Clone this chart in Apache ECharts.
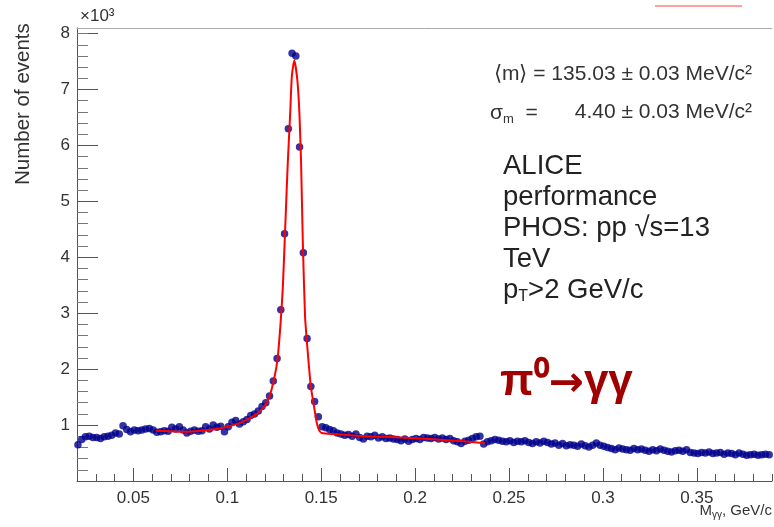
<!DOCTYPE html>
<html><head><meta charset="utf-8">
<script src="https://cdn.jsdelivr.net/npm/echarts@6/dist/echarts.min.js"></script>
<style>html,body{margin:0;padding:0;background:#fff}#c{width:774px;height:527px}</style>
</head><body><div id="c"></div>
<script>
// Histogram: bin centres start at 0.0205 GeV/c, width 0.002; counts in units of 10^3
const binStart = 0.0205;
const binWidth = 0.002;
const counts = [
  0.65,0.74,0.79,0.80,0.78,0.78,0.76,0.79,0.80,0.82,
  0.86,0.84,0.99,0.92,0.88,0.91,0.90,0.91,0.93,0.94,
  0.91,0.87,0.88,0.90,0.89,0.96,0.93,0.97,0.91,0.86,
  0.89,0.91,0.89,0.90,0.97,0.93,1.00,0.96,0.98,0.88,
  0.97,1.05,1.08,1.02,1.06,1.10,1.17,1.20,1.25,1.33,
  1.40,1.52,1.79,2.19,3.06,4.42,6.30,7.65,7.60,5.97,
  4.08,2.55,1.69,1.42,1.15,0.97,0.95,0.92,0.90,0.86,
  0.84,0.82,0.83,0.80,0.84,0.78,0.75,0.80,0.79,0.82,
  0.77,0.79,0.76,0.77,0.75,0.74,0.72,0.75,0.71,0.74,
  0.76,0.74,0.78,0.77,0.76,0.78,0.75,0.77,0.74,0.76,
  0.72,0.70,0.67,0.71,0.73,0.76,0.79,0.80,0.66,0.70,
  0.72,0.74,0.73,0.71,0.70,0.72,0.69,0.71,0.70,0.72,
  0.69,0.67,0.70,0.68,0.71,0.69,0.66,0.68,0.64,0.67,
  0.63,0.65,0.64,0.62,0.66,0.63,0.61,0.64,0.68,0.64,
  0.62,0.60,0.58,0.56,0.59,0.57,0.56,0.55,0.58,0.56,
  0.57,0.55,0.53,0.56,0.54,0.57,0.55,0.53,0.52,0.54,
  0.55,0.53,0.56,0.51,0.50,0.49,0.51,0.50,0.52,0.49,
  0.50,0.51,0.48,0.50,0.49,0.47,0.50,0.48,0.46,0.47,
  0.48,0.46,0.47,0.48,0.47
];
// Fit curve
const fitX = [0.062,0.070,0.078,0.086,0.094,0.100,0.106,0.110,0.114,0.118,0.121,0.1237,0.1267,0.1285,0.1296,0.1308,0.1322,0.1335,0.1344,0.1357,0.1373,0.1384,0.1393,0.1402,0.1414,0.1429,0.1445,0.1462,0.1477,0.1490,0.1503,0.1565,0.1742,0.1919,0.2097,0.2239,0.2372];
const fitY = [0.90,0.89,0.88,0.90,0.93,0.97,1.03,1.09,1.16,1.27,1.40,1.65,2.16,2.88,3.48,4.49,5.68,6.58,7.25,7.52,7.17,6.58,5.68,4.30,2.95,2.28,1.69,1.33,1.03,0.90,0.86,0.84,0.80,0.78,0.745,0.715,0.675];
const xMajorTicks = [0.05,0.1,0.15,0.2,0.25,0.3,0.35];
const xMinorTicks = [0.02,0.03,0.04,0.06,0.07,0.08,0.09,0.11,0.12,0.13,0.14,0.16,0.17,0.18,0.19,0.21,0.22,0.23,0.24,0.26,0.27,0.28,0.29,0.31,0.32,0.33,0.34,0.36,0.37,0.38,0.39];
const yMajorTicks = [0,1,2,3,4,5,6,7,8];
const yLabels = [1,2,3,4,5,6,7,8];
const yMinorTicks = [0.2,0.4,0.6,0.8,1.2,1.4,1.6,1.8,2.2,2.4,2.6,2.8,3.2,3.4,3.6,3.8,4.2,4.4,4.6,4.8,5.2,5.4,5.6,5.8,6.2,6.4,6.6,6.8,7.2,7.4,7.6,7.8,8.0];

const pts = counts.map((v, i) => [+(binStart + i * binWidth).toFixed(4), v]);
const fit = fitX.map((x, i) => [x, fitY[i]]);

const FONT = '"Liberation Sans", Arial, sans-serif';
const axisCol = '#555';
const chart = echarts.init(document.getElementById('c'), null, {renderer: 'canvas'});
const XMIN = 0.02, XMAX = 0.39, YMAX = 8.1;
chart.setOption({
  animation: false,
  backgroundColor: '#fff',
  grid: {left: 77, right: 2, top: 28, bottom: 46},
  xAxis: [
    {type: 'value', min: XMIN, max: XMAX, position: 'bottom',
     axisLine: {lineStyle: {color: axisCol, width: 1}},
     axisTick: {inside: true, length: 13, lineStyle: {color: axisCol}, customValues: xMajorTicks},
     axisLabel: {customValues: xMajorTicks, color: '#333', fontSize: 17, fontFamily: FONT, margin: 9,
       formatter: v => String(+v.toFixed(2))},
     splitLine: {show: false}},
    {type: 'value', min: XMIN, max: XMAX, position: 'bottom',
     axisLine: {show: false},
     axisTick: {inside: true, length: 7, lineStyle: {color: axisCol}, customValues: xMinorTicks},
     axisLabel: {show: false}, splitLine: {show: false}},
    {type: 'value', min: XMIN, max: XMAX, position: 'top',
     axisLine: {lineStyle: {color: '#aaa'}}, axisTick: {show: false}, axisLabel: {show: false}, splitLine: {show: false}}
  ],
  yAxis: [
    {type: 'value', min: 0, max: YMAX,
     axisLine: {show: true, lineStyle: {color: axisCol}},
     axisTick: {show: true, inside: true, length: 21, lineStyle: {color: axisCol}, customValues: yMajorTicks},
     axisLabel: {customValues: yLabels, color: '#333', fontSize: 17, fontFamily: FONT, margin: 7},
     splitLine: {show: false}},
    {type: 'value', min: 0, max: YMAX, position: 'left',
     axisLine: {show: false},
     axisTick: {show: true, inside: true, length: 11, lineStyle: {color: '#777'}, customValues: yMinorTicks},
     axisLabel: {show: false}, splitLine: {show: false}}
  ],
  series: [
    {type: 'scatter', data: pts, symbol: 'circle', symbolSize: 7.5,
     itemStyle: {color: '#00008c'}, z: 2},
    {type: 'line', data: fit, showSymbol: false, smooth: 0.2,
     lineStyle: {color: '#ff0000', width: 2}, z: 3}
  ],
  graphic: [
    {type: 'text', x: 80, y: 8, style: {text: '×10³', fontSize: 17, fontFamily: FONT, fill: '#333'}},
    {type: 'text', x: 13, y: 185, rotation: Math.PI / 2,
     style: {text: 'Number of events', fontSize: 20.5, fontFamily: FONT, fill: '#333'}},
    {type: 'text', x: 772, y: 520, style: {
      text: '{a|M}{s|γγ}{a|, GeV/c}', textAlign: 'right', textVerticalAlign: 'bottom', fill: '#333',
      rich: {a: {fontSize: 15, fontFamily: FONT, fill: '#333'},
             s: {fontSize: 10, fontFamily: FONT, fill: '#333', padding: [8, 0, 0, 0]}}}},
    {type: 'text', x: 752, y: 64, style: {
      text: '⟨m⟩ = 135.03 ± 0.03 MeV/c²', textAlign: 'right', fontSize: 21, fontFamily: FONT, fill: '#333'}},
    {type: 'text', x: 490, y: 101, style: {
      text: '{a|σ}{s|m}{a|  =}', fill: '#333',
      rich: {a: {fontSize: 21, fontFamily: FONT, fill: '#333'},
             s: {fontSize: 13, fontFamily: FONT, fill: '#333', padding: [12, 0, 0, 0]}}}},
    {type: 'text', x: 752, y: 102, style: {
      text: '4.40 ± 0.03 MeV/c²', textAlign: 'right', fontSize: 21, fontFamily: FONT, fill: '#333'}},
    {type: 'text', x: 503, y: 151, style: {
      text: '{a|ALICE}\n{a|performance}\n{a|PHOS: pp √s=13}\n{a|TeV}\n{a|p}{s|T}{a|>2 GeV/c}', fill: '#222',
      rich: {a: {fontSize: 27.5, fontFamily: FONT, fill: '#222', lineHeight: 31},
             s: {fontSize: 16, fontFamily: FONT, fill: '#222', lineHeight: 31, padding: [13, 0, 0, 0]}}}},
    {type: 'text', x: 500, y: 360, style: {
      text: '{a|π⁰}{b|→}{a|γγ}', fill: '#a00000',
      rich: {a: {fontSize: 44, fontWeight: 'bold', fontFamily: FONT, fill: '#a00000'},
             b: {fontSize: 42, fontWeight: 'bold', fontFamily: '"DejaVu Sans"', fill: '#a00000', padding: [4, 0, 0, 0]}}}},
    {type: 'line', shape: {x1: 655, y1: 6, x2: 742, y2: 6}, style: {stroke: '#ff8080', lineWidth: 1.5}}
  ]
});
</script></body></html>
